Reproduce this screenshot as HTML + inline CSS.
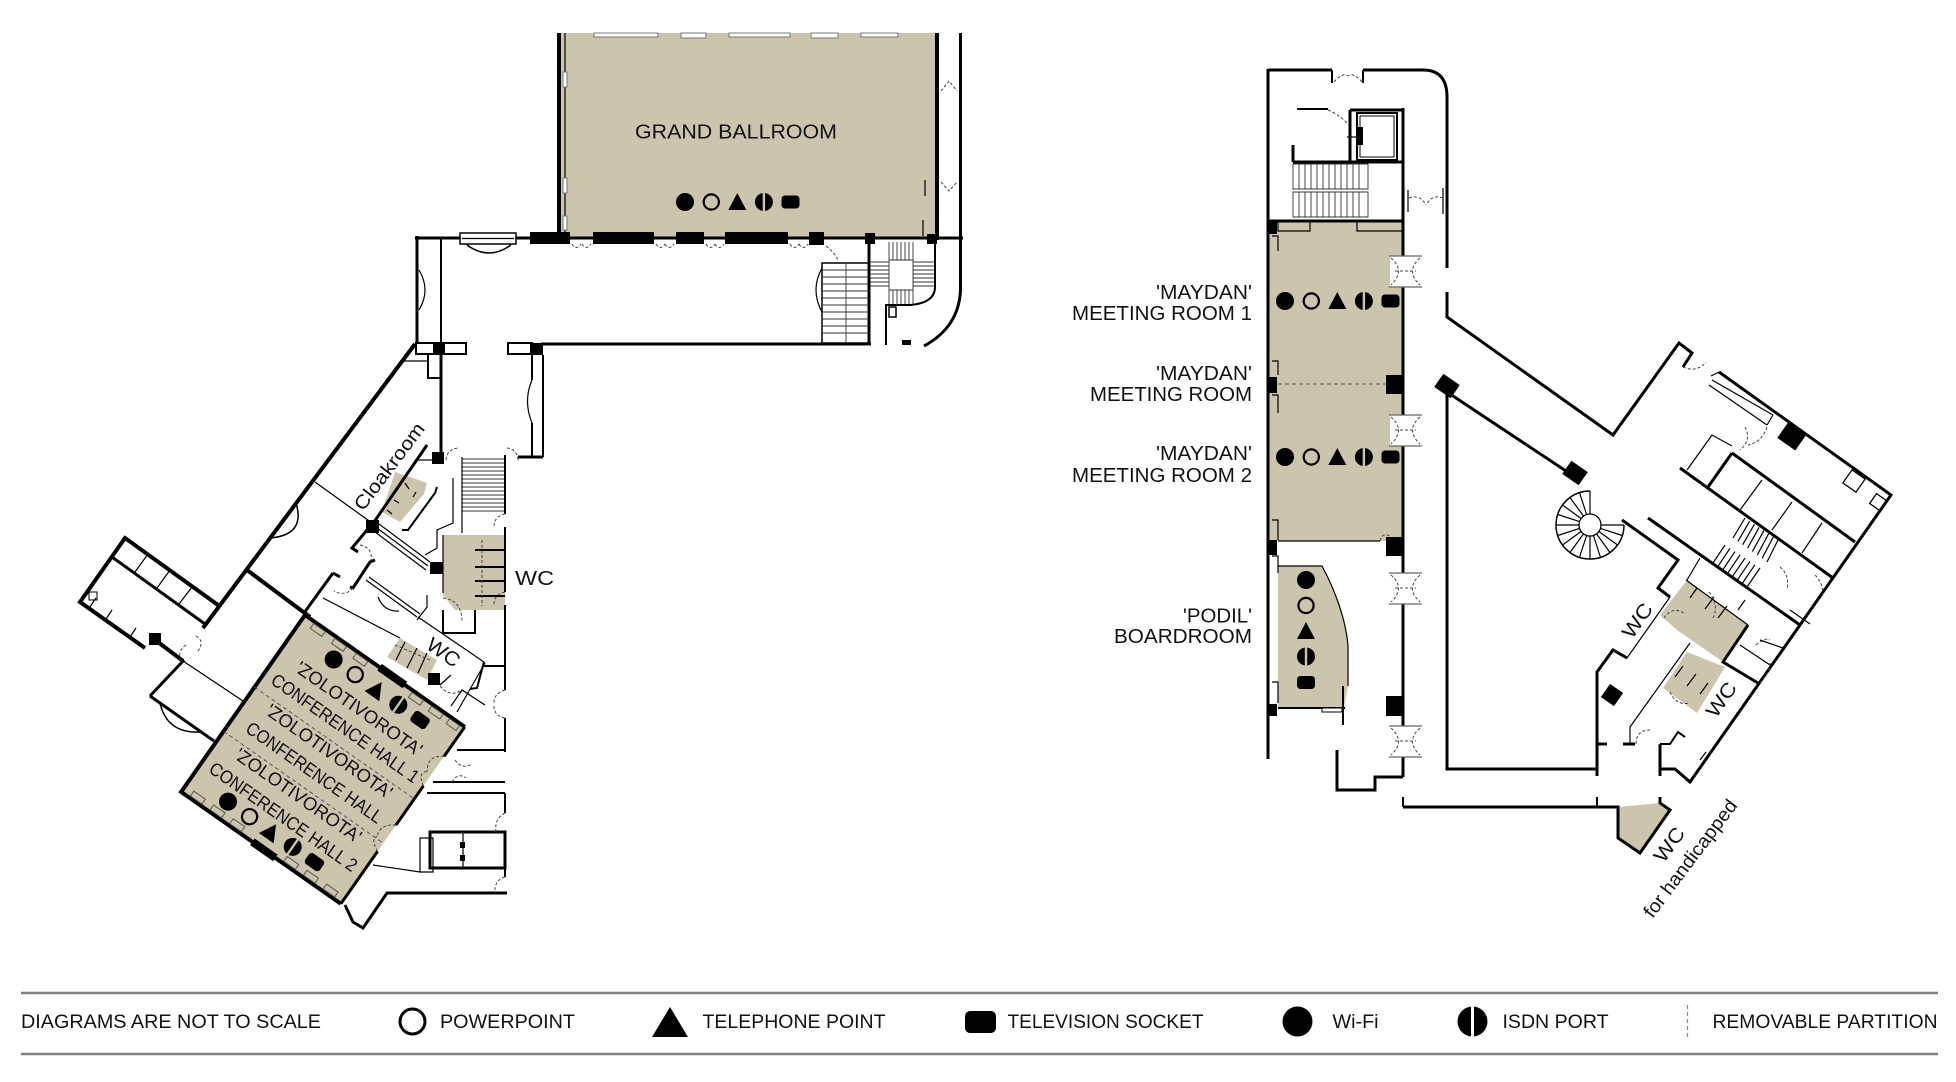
<!DOCTYPE html>
<html><head><meta charset="utf-8">
<style>
html,body{margin:0;padding:0;background:#fff;}
svg{display:block;}
text{font-family:"Liberation Sans",sans-serif;fill:#111;}
.k4{stroke:#000;stroke-width:4;fill:none;stroke-linejoin:miter}
.k3{stroke:#000;stroke-width:3;fill:none}
.k2{stroke:#000;stroke-width:2;fill:none}
.k1{stroke:#000;stroke-width:1.2;fill:none}
.g1{stroke:#333;stroke-width:0.9;fill:none}
.dd{stroke:#444;stroke-width:1;fill:none;stroke-dasharray:3 2}
.pd{stroke:#555;stroke-width:1;fill:none;stroke-dasharray:4 3}
.wm{fill:#fff;stroke:#777;stroke-width:1}
</style></head><body>
<svg xmlns="http://www.w3.org/2000/svg" width="1956" height="1082" viewBox="0 0 1956 1082">
<defs>
<g id="icons">
 <circle cx="0" cy="0" r="9"/>
 <circle cx="26.3" cy="0" r="7.6" fill="none" stroke="#000" stroke-width="2.2"/>
 <path d="M43.3,8 H61.3 L52.3,-9 Z"/>
 <circle cx="78.9" cy="0" r="9"/>
 <rect x="77.7" y="-10" width="2.4" height="20" fill="#ccc5ae"/>
 <rect x="96.5" y="-6.5" width="18" height="13" rx="3.5"/>
</g>
</defs>

<!-- ================= BEIGE FILLS ================= -->
<g fill="#ccc5ae">
 <rect x="559" y="33" width="378" height="205"/>
 <rect x="1269" y="222" width="134" height="319"/>
 <path d="M1278,566 H1322 C1335,590 1346,620 1348,646 V686 L1344,708 H1278 Z"/>
 <path d="M443,535 H505 V610 H455 L443,595 Z"/>
 <path d="M395,472 L427,483 L424,494 L400,522 L382,512 Z"/>
 <path d="M400,638 L437,660 L427,680 L387,657 Z"/>
 <path d="M1660,615 L1687,580 L1748,625 L1723,662 L1677,630 Z"/>
 <path d="M1663,688 L1687,652 L1725,667 L1697,713 Z"/>
 <path d="M1618,807 L1660,803 L1670,810 L1640,853 L1618,838 Z"/>
</g>

<!-- ================= GRAND BALLROOM BUILDING ================= -->
<g>
 <path class="k4" d="M559,33V240"/>
 <path class="k1" d="M565,33V236"/>
 <path class="k4" d="M937,33V240"/>
 <path class="k1" d="M925,180V196 M923,220V236"/>
 <path class="k3" d="M960.5,33V290Q959,327 924,346"/>
 <path class="k3" d="M415,238H963"/>
 <path class="k3" d="M417,236V345"/>
 <path class="k2" d="M441,238V355"/>
 <path class="k3" d="M441,355V455"/>
 <path class="k3" d="M869,236V345"/>
 <path class="k3" d="M541,344H871"/>
 <path class="k2" d="M428,355V378H441"/>
 <path class="k1" d="M419,270Q431,290 419,310"/>
 <rect class="wm" x="594" y="33" width="64" height="4"/>
 <rect class="wm" x="681" y="33" width="25" height="5"/>
 <rect class="wm" x="729" y="33" width="61" height="4"/>
 <rect class="wm" x="811" y="33" width="27" height="5"/>
 <rect class="wm" x="861" y="33" width="37" height="4"/>
 <rect class="wm" x="563" y="72" width="4" height="15"/>
 <rect class="wm" x="563" y="178" width="4" height="15"/>
 <rect class="wm" x="563" y="216" width="4" height="14"/>
 <g fill="#000">
  <rect x="530" y="232" width="40" height="12"/>
  <rect x="593" y="232" width="61" height="12"/>
  <rect x="676" y="232" width="28" height="12"/>
  <rect x="725" y="232" width="63" height="12"/>
  <rect x="809" y="232" width="15" height="13"/>
  <rect x="865" y="233" width="10" height="11"/>
  <rect x="927" y="234" width="10" height="10"/>
  <rect x="902" y="340" width="9" height="5"/>
 </g>
 <path class="dd" d="M572,244q4,7 9,0 M582,244q4,7 9,0 M656,244q4,7 9,0 M665,244q4,7 9,0 M706,244q4,7 9,0 M715,244q4,7 9,0 M790,244q4,7 9,0 M799,244q4,7 9,0 M826,246q8,6 12,14"/>
 <path class="dd" d="M941,91L949,81L957,91 M941,182L949,191L957,182"/>
 <rect x="460" y="233" width="56" height="11" fill="#fff" stroke="#000" stroke-width="1.5"/>
 <path class="k1" d="M462,238.5H514"/>
 <path stroke="#000" stroke-width="1.5" fill="none" d="M467,245Q489,261 511,245"/>
 <rect x="416" y="343" width="50" height="11" fill="#fff" stroke="#000" stroke-width="2"/>
 <rect x="433" y="343" width="12" height="12" fill="#000"/>
 <rect x="508" y="343" width="24" height="11" fill="#fff" stroke="#000" stroke-width="2"/>
 <rect x="530" y="343" width="13" height="12" fill="#000"/>
 <rect x="822" y="263" width="47" height="80" fill="none" stroke="#000" stroke-width="1.5"/>
 <path class="g1" d="M822,270H869 M822,277H869 M822,284H869 M822,291H869 M822,298H869 M822,305H869 M822,312H869 M822,319H869 M822,326H869 M822,333H869 M846,263V343"/>
 <path class="k1" d="M822,268Q810,290 822,312"/>
 <path class="g1" d="M889,242V260 M893,242V260 M897,242V260 M901,242V260 M905,242V260 M909,242V260 M913,242V260 M870,262H889 M870,266H889 M870,270H889 M870,274H889 M870,278H889 M870,282H889 M870,286H889 M913,262H934 M913,266H934 M913,270H934 M913,274H934 M913,278H934 M913,282H934 M913,286H934 M889,290V304 M893,290V304 M897,290V304 M901,290V304 M905,290V304 M909,290V304 M913,290V304 M889,260H913V290H889Z"/>
 <path class="k2" d="M935,240V287Q935,303 910,305H886V345"/>
 <rect x="889" y="307" width="7" height="10" fill="none" stroke="#000" stroke-width="1.5"/>
</g>

<!-- ================= VERTICAL HALLWAY / LEFT WING ================= -->
<g>
 <rect x="432" y="452" width="12" height="12" fill="#000"/>
 <path class="k2" d="M532,355V380 M532,423V457 M543,355V457"/>
 <path class="k1" d="M532,380Q523,401 532,423"/>
 <path class="k3" d="M543,457H518"/>
 <path class="dd" d="M446,460Q447,449 458,448 M518,460Q517,449 507,448"/>
 <path class="g1" d="M462,459H505 M462,463H505 M462,467H505 M462,471H505 M462,475H505 M462,479H505 M462,483H505 M462,487H505 M462,491H505 M462,495H505 M462,499H505 M462,503H505 M462,507H505 M462,511H505"/>
 <path class="k1" d="M462,457V533"/>
 <path class="k2" d="M505,455V514 M505,527V592 M505,605V690 M505,718V752"/>
 <path class="dd" d="M505,514Q494,516 494,527 M505,592Q494,594 494,605 M505,690Q493,694 494,704 M505,718Q494,716 494,706"/>
 <path class="k2" d="M483,666H505"/>
 <path class="k4" d="M415,344L203,628"/>
 <path class="k1" d="M417,343L402,361H428"/>
 <path stroke="#000" stroke-width="1.5" fill="none" d="M296,503Q306,535 270,538"/>
 <path class="k1" d="M315,482L372,523"/>
 <path class="k4" d="M247,570L310,617"/>
 <path class="k3" d="M427,445L372,525"/>
 <path class="k1" d="M417,460H433"/>
 <rect x="366" y="520" width="13" height="13" fill="#000"/>
 <path class="k1" d="M379,524L430,562 M377,528L428,566 M375,532L426,570"/>
 <rect x="430" y="562" width="13" height="12" fill="#000"/>
 <path class="k2" d="M437,487L435,493L408,530H402"/>
 <path class="k1" d="M405,483L409,489 M394,500L399,503 M387,510L392,514 M416,492L413,497"/>
 <path class="k3" d="M367,530L352,548L358,552"/>
 <path class="dd" d="M360,545Q373,548 371,560"/>
 <path class="k3" d="M375,560L370,562L353,588L350,587"/>
 <path class="dd" d="M353,588Q345,597 334,591"/>
 <path class="k1" d="M366,580L417,617 M369,577L420,614"/>
 <path class="k1" d="M378,597Q384,612 399,611"/>
 <path class="k3" d="M333,573L340,577 M333,573L304,613"/>
 <path class="k1" d="M323,598L400,638"/>
 <path class="k1" d="M418,617L484,662"/>
 <path class="k2" d="M484,662L477,688L470,689"/>
 <path class="k1" d="M405,642L396,660 M417,648L407,668 M427,653L418,673"/>
 <path class="dd" d="M395,645L430,660"/>
 <rect x="428" y="673" width="12" height="12" fill="#000"/>
 <path class="dd" d="M440,686Q450,698 462,690"/>
 <path class="k1" d="M440,685L451,675 M451,706L462,690L485,705"/>
 <path class="k2" d="M475,550H505 M475,567H505 M475,581H505 M475,596H505"/>
 <path class="dd" d="M482,540V606"/>
 <path class="k1" d="M453,478V523L437,530V548L425,555 M443,535V593"/>
 <path class="k2" d="M443,610V633H475V610"/>
 <path class="dd" d="M443,598Q462,600 462,622"/>
 <path class="k1" d="M427,595V607L417,620"/>
 <path class="k4" d="M218,605L125,538L80,602L145,648"/>
 <path class="k4" d="M150,636L183,661"/>
 <rect x="149" y="633" width="12" height="12" fill="#000"/>
 <path class="k3" d="M112,557L205,624"/>
 <path class="k1" d="M148,554L135,572 M170,570L157,588 M192,587L179,604"/>
 <path class="k1" d="M96,598L89,608 M112,610L106,619 M136,628L130,637"/>
 <rect x="89" y="592" width="8" height="8" fill="none" stroke="#000" stroke-width="1"/>
 <path class="dd" d="M186,645Q178,650 180,660 M196,636Q205,641 198,651"/>
 <path class="k1" d="M183,661L243,701"/>
 <path class="k3" d="M184,660L150,696"/>
 <path class="k3" d="M150,696L214,741"/>
 <path stroke="#000" stroke-width="1.5" fill="none" d="M160,703Q167,734 201,732"/>
 <path class="k3" d="M345,905L353,922L363,928L387,893H507"/>
 <path class="k1" d="M373,865L420,872"/>
 <rect x="430" y="832" width="75" height="36" fill="none" stroke="#000" stroke-width="3"/>
 <path class="k1" d="M463,832V868 M420,838H433V872H420Z"/>
 <rect x="460" y="842" width="5" height="6" fill="#000"/><rect x="460" y="855" width="5" height="6" fill="#000"/>
 <path class="k2" d="M457,750H505 M433,782H505 M427,793H505"/>
 <path class="k2" d="M505,793V813 M505,833V877"/>
 <path class="dd" d="M505,813Q494,818 496,833 M505,877Q494,880 495,893"/>
 <path class="k1" d="M485,663L457,712"/>
 <path class="dd" d="M455,760Q462,770 472,764 M452,782Q458,772 466,778"/>
</g>

<!-- ================= CONFERENCE HALL (rotated) ================= -->
<g transform="translate(305,615) rotate(35)">
 <rect x="0" y="0" width="195" height="216" fill="#ccc5ae"/>
 <path class="k4" d="M0,0H195 M0,0V216H195"/>
 <path class="k3" d="M195,0V36 M195,72V120 M195,152V216"/>
 <path class="dd" d="M195,36Q180,45 190,58 M195,72Q182,64 190,58 M195,120Q181,128 186,140 M195,152Q182,146 186,140"/>
 <rect x="91" y="-4" width="31" height="8"/>
 <rect x="87" y="212" width="28" height="8"/>
 <g fill="none" stroke="#555" stroke-width="1">
  <rect x="12" y="2" width="14" height="6"/><rect x="38" y="2" width="14" height="6"/><rect x="64" y="2" width="14" height="6"/>
  <rect x="132" y="2" width="14" height="6"/><rect x="156" y="2" width="14" height="6"/><rect x="178" y="2" width="12" height="6"/>
  <rect x="10" y="208" width="14" height="6"/><rect x="34" y="208" width="14" height="6"/><rect x="58" y="208" width="14" height="6"/>
  <rect x="124" y="208" width="14" height="6"/><rect x="148" y="208" width="14" height="6"/><rect x="172" y="208" width="14" height="6"/>
 </g>
 <use href="#icons" x="49" y="20"/>
 <use href="#icons" x="44" y="197"/>
 <path class="pd" d="M0,88H195 M0,142H195"/>
 <g font-size="18.5" text-anchor="middle">
  <text x="98" y="52" textLength="150" lengthAdjust="spacingAndGlyphs">'ZOLOTIVOROTA'</text>
  <text x="98" y="76" textLength="176" lengthAdjust="spacingAndGlyphs">CONFERENCE HALL 1</text>
  <text x="98" y="104" textLength="150" lengthAdjust="spacingAndGlyphs">'ZOLOTIVOROTA'</text>
  <text x="98" y="130" textLength="162" lengthAdjust="spacingAndGlyphs">CONFERENCE HALL</text>
  <text x="98" y="158" textLength="150" lengthAdjust="spacingAndGlyphs">'ZOLOTIVOROTA'</text>
  <text x="98" y="184" textLength="176" lengthAdjust="spacingAndGlyphs">CONFERENCE HALL 2</text>
 </g>
</g>

<!-- ================= RIGHT BUILDING ================= -->
<g>
 <path class="k3" d="M1268,69V759"/>
 <path class="k3" d="M1268,70H1332 M1363,70H1423Q1447,70 1447,97V268 M1447,292V317L1613,435L1679,343L1692,353L1683,367"/>
 <path class="k2" d="M1332,70V83 M1363,70V83"/>
 <path class="dd" d="M1334,82Q1342,72 1348,76 M1362,82Q1354,72 1348,76"/>
 <path class="k1" d="M1408,190V212 M1443,188V214"/>
 <path class="dd" d="M1409,198Q1420,194 1426,205 M1443,198Q1432,194 1426,205"/>
 <path class="k3" d="M1403,108V777"/>
 <path class="k3" d="M1350,110V162 M1350,110H1403 M1293,162H1403 M1268,221H1403"/>
 <rect x="1357" y="113" width="40" height="47" fill="none" stroke="#000" stroke-width="2"/>
 <rect x="1360" y="116" width="34" height="41" fill="none" stroke="#000" stroke-width="1"/>
 <rect x="1357" y="127" width="6" height="18" fill="#000"/>
 <path class="k1" d="M1347,137H1357"/>
 <path class="k2" d="M1297,109H1328"/>
 <path class="dd" d="M1328,110Q1340,115 1349,125"/>
 <path class="k3" d="M1293,145V162"/>
 <path class="g1" d="M1293,164H1368V189H1293Z M1293,192H1368V217H1293Z M1299,164V189 M1305,164V189 M1311,164V189 M1317,164V189 M1323,164V189 M1329,164V189 M1335,164V189 M1341,164V189 M1347,164V189 M1353,164V189 M1359,164V189 M1299,192V217 M1305,192V217 M1311,192V217 M1317,192V217 M1323,192V217 M1329,192V217 M1335,192V217 M1341,192V217 M1347,192V217 M1353,192V217 M1359,192V217"/>
 <path class="k1" d="M1278,222V231H1310V222 M1357,222V231H1403"/>
 <g fill="#000">
  <rect x="1267" y="222" width="10" height="12"/>
  <rect x="1267" y="377" width="10" height="16"/>
  <rect x="1267" y="540" width="10" height="15"/>
  <rect x="1386" y="375" width="17" height="19"/>
  <rect x="1386" y="537" width="17" height="19"/>
  <rect x="1267" y="704" width="10" height="12"/>
  <rect x="1386" y="696" width="17" height="20"/>
 </g>
 <path class="pd" d="M1278,384H1386"/>
 <path class="k1" d="M1272,236H1278V251 M1272,361H1278V375 M1272,395H1278V413 M1272,520H1278V540 M1272,556H1278V573 M1272,682H1278V703"/>
 <path class="k1" d="M1278,541H1380"/>
 <path class="dd" d="M1380,541Q1382,532 1390,536"/>
 <path class="k1" d="M1278,566H1322C1335,590 1346,620 1348,646V686"/>
 <path class="k2" d="M1278,708H1345 M1343,686V725"/>
 <rect x="1322" y="708" width="20" height="4" fill="#fff" stroke="#000" stroke-width="1"/>
 <!-- door openings on inner right wall -->
 <g>
  <rect x="1390" y="256" width="31" height="31" fill="#fff"/>
  <rect x="1390" y="415" width="31" height="31" fill="#fff"/>
  <rect x="1390" y="573" width="31" height="31" fill="#fff"/>
  <rect x="1390" y="726" width="31" height="31" fill="#fff"/>
  <path stroke="#666" stroke-width="1.2" fill="none" d="M1389,256H1422 M1389,287H1422 M1389,415H1422 M1389,446H1422 M1389,573H1422 M1389,604H1422 M1389,726H1422 M1389,757H1422"/>
  <path class="dd" d="M1391,258Q1406,271 1391,285 M1420,258Q1405,271 1420,285 M1391,417Q1406,430 1391,444 M1420,417Q1405,430 1420,444 M1391,575Q1406,588 1391,602 M1420,575Q1405,588 1420,602 M1391,728Q1406,741 1391,755 M1420,728Q1405,741 1420,755"/>
  <path class="dd" d="M1395,271H1416 M1395,430H1416 M1395,588H1416 M1395,741H1416"/>
 </g>
 <path class="k3" d="M1403,777H1375V790H1337V750"/>
 <path class="k3" d="M1403,807H1618V838L1640,853L1670,810L1660,803V797"/>
 <path class="k2" d="M1403,797V807 M1597,797V807"/>
 <path class="k3" d="M1447,394V769H1597"/>
 <rect x="-10" y="-8" width="20" height="16" transform="translate(1447,386) rotate(35)"/>
 <path class="k3" d="M1447,392L1575,477"/>
 <rect x="-10" y="-8" width="20" height="16" transform="translate(1575,473) rotate(35)"/>
 <path class="k3" d="M1597,776V672L1613,650L1627,658"/>
 <rect x="-8" y="-8" width="16" height="16" transform="translate(1612,695) rotate(35)"/>
 <path class="k3" d="M1597,744H1607 M1623,744H1635"/>
 <path class="k1" d="M1630,744V727L1690,643"/>
 <path class="dd" d="M1636,744Q1636,730 1650,730"/>
 <path class="k3" d="M1660,744V776"/>
 <path class="k2" d="M1660,744H1670L1678,732L1685,737"/>
 <path class="k3" d="M1660,769H1675L1690,782L1891,495L1719,372"/>
 <path class="k1" d="M1700,760L1706,752"/>
 <circle cx="1590" cy="525" r="11" fill="none" stroke="#000" stroke-width="1.3"/>
 <path stroke="#000" stroke-width="1.5" fill="none" d="M1590,491A34,34 0 1 0 1624,525"/>
 <path class="k1" d="M1601,525H1624 M1600.5,528.4L1622.3,535.5 M1598.9,531.5L1617.5,545 M1596.5,533.9L1610,552.5 M1593.4,535.5L1600.5,557.3 M1590,536V559 M1586.6,535.5L1579.5,557.3 M1583.5,533.9L1570,552.5 M1581.1,531.5L1562.5,545 M1579.5,528.4L1557.7,535.5 M1579,525H1556 M1579.5,521.6L1557.7,514.5 M1581.1,518.5L1562.5,505 M1583.5,516.1L1570,497.5 M1586.6,514.5L1579.5,492.7 M1590,514V491"/>
 <path class="k3" d="M1622,520L1678,560L1658,588L1670,597"/>
 <path class="k1" d="M1670,597L1627,658L1613,650"/>
 <path class="k3" d="M1648,518L1800,625"/>
 <path class="k3" d="M1680,468L1833,578"/>
 <path class="k3" d="M1732,453L1855,542"/>
 <path class="k3" d="M1732,453L1708,487"/>
 <path class="k1" d="M1687,470L1712,435L1732,446"/>
 <path class="k1" d="M1762,480L1740,510 M1792,502L1772,530 M1822,523L1802,553"/>
 <rect x="-11" y="-10" width="22" height="20" transform="translate(1792,436) rotate(35)"/>
 <rect x="-8" y="-8" width="16" height="16" fill="none" stroke="#000" stroke-width="1.3" transform="translate(1854,481) rotate(35)"/>
 <rect x="-6" y="-6" width="12" height="12" fill="none" stroke="#000" stroke-width="1.3" transform="translate(1878,502) rotate(35)"/>
 <path class="k1" d="M1712,380L1773,415 M1709,385L1767,425 M1773,415L1767,425 M1711,376L1719,372"/>
 <path class="dd" d="M1683,367Q1697,373 1706,362 M1745,427Q1752,440 1740,450 M1767,427Q1762,442 1748,445"/>
 <path class="k1" d="M1745,518L1733,538 M1749.7,521.1L1737.9,541.4 M1754.4,524.3L1742.7,544.7 M1759.1,527.4L1747.6,548.1 M1763.9,530.6L1752.4,551.6 M1768.6,533.7L1757.3,555 M1773.3,536.9L1762.1,558.3 M1778,540L1767,562"/>
 <path class="k1" d="M1725,545L1713,563 M1730,548.3L1717.9,566.4 M1735,551.6L1722.7,569.9 M1740,554.9L1727.6,573.3 M1745,558.1L1732.4,576.7 M1750,561.4L1737.3,580.1 M1755,564.7L1742.1,583.6 M1760,568L1747,587"/>
 <path class="k1" d="M1700,558L1687,580 M1745,600L1738,610"/>
 <path class="k3" d="M1748,625L1723,662L1758,683"/>
 <path class="k1" d="M1740,645L1770,665 M1686,580L1748,625"/>
 <path class="k1" d="M1690,598L1697,588 M1705,609L1714,597 M1718,618L1727,606"/>
 <path class="k1" d="M1675,677L1683,666 M1687,686L1696,674 M1700,694L1708,683"/>
 <path class="dd" d="M1664,618Q1672,606 1684,613 M1709,592Q1720,606 1712,620 M1670,692Q1676,706 1690,703 M1760,683Q1770,671 1770,663 M1756,645Q1765,637 1770,640"/>
 <path class="k1" d="M1783,648L1760,640 M1790,610L1810,624 M1800,625L1817,600"/>
 <path class="dd" d="M1780,567Q1790,575 1787,590 M1815,575Q1825,585 1822,598"/>
</g>

<!-- ================= ICONS ================= -->
<use href="#icons" x="685" y="202"/>
<use href="#icons" x="1285" y="301"/>
<use href="#icons" x="1285" y="457"/>
<g>
 <circle cx="1306" cy="580" r="9"/>
 <circle cx="1306" cy="605.5" r="7.6" fill="none" stroke="#000" stroke-width="2.2"/>
 <path d="M1297,639H1315L1306,622Z"/>
 <circle cx="1306" cy="656.5" r="9"/>
 <rect x="1304.8" y="646.5" width="2.4" height="20" fill="#ccc5ae"/>
 <rect x="1297" y="676" width="18" height="13" rx="3.5"/>
</g>

<!-- ================= LABELS ================= -->
<text x="736" y="138.5" font-size="20" text-anchor="middle" textLength="202" lengthAdjust="spacingAndGlyphs">GRAND BALLROOM</text>
<g font-size="20" text-anchor="end">
 <text x="1252" y="299" textLength="96" lengthAdjust="spacingAndGlyphs">'MAYDAN'</text>
 <text x="1252" y="320" textLength="180" lengthAdjust="spacingAndGlyphs">MEETING ROOM 1</text>
 <text x="1252" y="380" textLength="96" lengthAdjust="spacingAndGlyphs">'MAYDAN'</text>
 <text x="1252" y="401" textLength="162" lengthAdjust="spacingAndGlyphs">MEETING ROOM</text>
 <text x="1252" y="460" textLength="96" lengthAdjust="spacingAndGlyphs">'MAYDAN'</text>
 <text x="1252" y="482" textLength="180" lengthAdjust="spacingAndGlyphs">MEETING ROOM 2</text>
 <text x="1252" y="622.5" textLength="69" lengthAdjust="spacingAndGlyphs">'PODIL'</text>
 <text x="1252" y="643" textLength="138" lengthAdjust="spacingAndGlyphs">BOARDROOM</text>
</g>
<text x="515" y="585" font-size="20" textLength="39" lengthAdjust="spacingAndGlyphs">WC</text>
<text x="443" y="653" font-size="20" text-anchor="middle" dominant-baseline="central" transform="rotate(35 443 653)" textLength="36" lengthAdjust="spacingAndGlyphs">WC</text>
<text x="390" y="467" font-size="19" text-anchor="middle" dominant-baseline="central" transform="rotate(-53 390 467)" textLength="104" lengthAdjust="spacingAndGlyphs">Cloakroom</text>
<text x="1638" y="621" font-size="20" text-anchor="middle" dominant-baseline="central" transform="rotate(-55 1638 621)" textLength="38" lengthAdjust="spacingAndGlyphs">WC</text>
<text x="1722" y="700" font-size="20" text-anchor="middle" dominant-baseline="central" transform="rotate(-55 1722 700)" textLength="38" lengthAdjust="spacingAndGlyphs">WC</text>
<text x="1670" y="845" font-size="20" text-anchor="middle" dominant-baseline="central" transform="rotate(-54 1670 845)" textLength="38" lengthAdjust="spacingAndGlyphs">WC</text>
<text x="1691" y="859" font-size="19" text-anchor="middle" dominant-baseline="central" transform="rotate(-53 1691 859)" textLength="142" lengthAdjust="spacingAndGlyphs">for handicapped</text>

<!-- ================= LEGEND ================= -->
<path d="M21,993H1938 M21,1054H1938" stroke="#808080" stroke-width="2.5" fill="none"/>
<g font-size="19">
 <text x="21" y="1028" textLength="300" lengthAdjust="spacingAndGlyphs">DIAGRAMS ARE NOT TO SCALE</text>
 <text x="440" y="1028" textLength="135" lengthAdjust="spacingAndGlyphs">POWERPOINT</text>
 <text x="702.5" y="1028" textLength="183" lengthAdjust="spacingAndGlyphs">TELEPHONE POINT</text>
 <text x="1007.5" y="1028" textLength="196" lengthAdjust="spacingAndGlyphs">TELEVISION SOCKET</text>
 <text x="1332.5" y="1028" textLength="46" lengthAdjust="spacingAndGlyphs">Wi-Fi</text>
 <text x="1502.5" y="1028" textLength="106" lengthAdjust="spacingAndGlyphs">ISDN PORT</text>
 <text x="1712.5" y="1028" textLength="225" lengthAdjust="spacingAndGlyphs">REMOVABLE PARTITION</text>
</g>
<circle cx="412.5" cy="1021.5" r="12.5" fill="none" stroke="#000" stroke-width="3"/>
<path d="M652,1037H688L670,1007Z"/>
<rect x="965" y="1011" width="31" height="22" rx="5"/>
<circle cx="1297.5" cy="1021.5" r="15"/>
<circle cx="1472.5" cy="1021.5" r="15"/>
<rect x="1471" y="1005" width="3" height="33" fill="#fff"/>
<path d="M1687.5,1005V1037" stroke="#888" stroke-width="1.2" stroke-dasharray="4 3"/>
</svg>
</body></html>
